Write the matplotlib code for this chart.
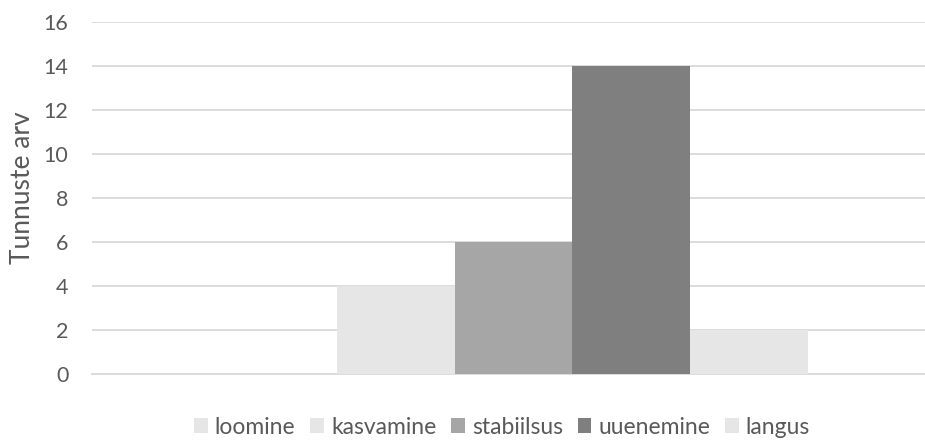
import matplotlib
matplotlib.use("Agg")
import matplotlib.pyplot as plt
import numpy as np

plt.rcParams['font.family'] = ['Lato', 'DejaVu Sans']

# faasid ja tunnuste arv
faasid = ['loomine', 'kasvamine', 'stabiilsus', 'uuenemine', 'langus']
tunnused = [0, 4, 6, 14, 2]
varvid = ['#e6e6e6', '#e6e6e6', '#a6a6a6', '#7f7f7f', '#e6e6e6']
y_ticks = [0, 2, 4, 6, 8, 10, 12, 14, 16]

fig = plt.figure(figsize=(9.25, 4.41), dpi=100)
ax = fig.add_axes([92/925, 67/441, 843/925, 352/441])

n = len(faasid)
for i in range(n):
    ax.bar(i - (n - 1) / 2, tunnused[i], width=1.0, color=varvid[i],
           label=faasid[i], zorder=3)

ax.set_xlim(-3.58, 3.58)
ax.set_ylim(0, 16)
ax.set_yticks(y_ticks)
ax.set_xticks([])
ax.grid(axis='y', color='#d9d9d9', linewidth=1.3, zorder=0)
for s in ['top', 'right', 'left']:
    ax.spines[s].set_visible(False)
ax.spines['bottom'].set_color('#d9d9d9')
ax.spines['bottom'].set_linewidth(1.3)
ax.tick_params(axis='y', length=0, pad=17, labelsize=15.5, labelcolor='#595959')
ax.set_ylabel('Tunnuste arv', fontsize=19, color='#595959')
ax.yaxis.set_label_coords(-57/843, 0.53)

fig.legend(loc='center', bbox_to_anchor=(502/925, 1 - 427/441), ncol=n,
           frameon=False, fontsize=16.5, labelcolor='#595959',
           handlelength=0.6, handleheight=0.6, handletextpad=0.3,
           columnspacing=0.65)

fig.savefig('out.png', dpi=100)
